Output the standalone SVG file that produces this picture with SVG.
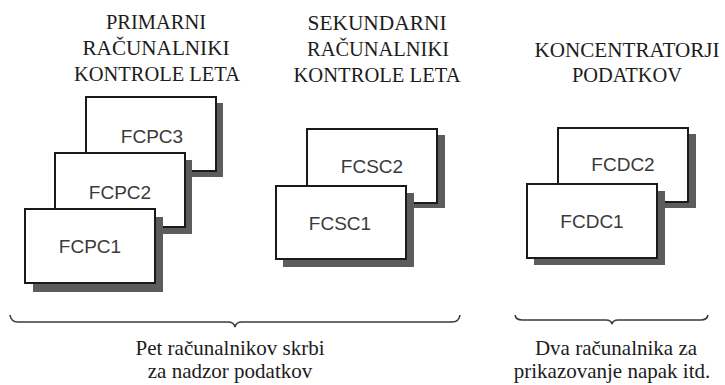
<svg xmlns="http://www.w3.org/2000/svg" width="725" height="385" viewBox="0 0 725 385">
<style>
.hdr{font-family:"Liberation Serif","Times New Roman",serif;font-size:20.5px;fill:#1c1c1c;text-anchor:middle}
.cap{font-family:"Liberation Serif","Times New Roman",serif;font-size:21px;fill:#1c1c1c;text-anchor:middle}
.lbl{font-family:"Liberation Sans",Arial,sans-serif;font-size:19px;fill:#3a3a3a;text-anchor:middle}
.box{fill:#ffffff;stroke:#1a1a1a;stroke-width:2}
.shd{fill:#5c5c5c}
.brace{fill:none;stroke:#3a3a3a;stroke-width:1.6}
</style>
<rect width="725" height="385" fill="#ffffff"/>
<g id="headers">
<text class="hdr" x="156" y="29" textLength="100" lengthAdjust="spacingAndGlyphs">PRIMARNI</text>
<text class="hdr" x="156" y="55" textLength="147" lengthAdjust="spacingAndGlyphs">RAČUNALNIKI</text>
<text class="hdr" x="157" y="81" textLength="166" lengthAdjust="spacingAndGlyphs">KONTROLE LETA</text>
<text class="hdr" x="377" y="30" textLength="139" lengthAdjust="spacingAndGlyphs">SEKUNDARNI</text>
<text class="hdr" x="378" y="56" textLength="142" lengthAdjust="spacingAndGlyphs">RAČUNALNIKI</text>
<text class="hdr" x="377" y="82" textLength="167" lengthAdjust="spacingAndGlyphs">KONTROLE LETA</text>
<text class="hdr" x="627" y="57" textLength="185" lengthAdjust="spacingAndGlyphs">KONCENTRATORJI</text>
<text class="hdr" x="627" y="82" textLength="110" lengthAdjust="spacingAndGlyphs">PODATKOV</text>
</g>
<g id="FCPC3">
<rect class="shd" x="93" y="103" width="130" height="74"/>
<rect class="box" x="86" y="97" width="130" height="74"/>
<text class="lbl" x="152" y="143">FCPC3</text>
</g>
<g id="FCPC2">
<rect class="shd" x="62" y="160" width="130" height="74"/>
<rect class="box" x="55" y="153" width="130" height="74"/>
<text class="lbl" x="120" y="199">FCPC2</text>
</g>
<g id="FCPC1">
<rect class="shd" x="33" y="217" width="130" height="75"/>
<rect class="box" x="25" y="209" width="130" height="74"/>
<text class="lbl" x="90" y="253">FCPC1</text>
</g>
<g id="FCSC2">
<rect class="shd" x="314" y="135" width="131" height="73"/>
<rect class="box" x="307" y="129" width="130" height="74"/>
<text class="lbl" x="372" y="173">FCSC2</text>
</g>
<g id="FCSC1">
<rect class="shd" x="283" y="193" width="131" height="74"/>
<rect class="box" x="276" y="186" width="130" height="73"/>
<text class="lbl" x="340" y="230">FCSC1</text>
</g>
<g id="FCDC2">
<rect class="shd" x="565" y="134" width="131" height="74"/>
<rect class="box" x="558" y="128" width="130" height="74"/>
<text class="lbl" x="623" y="171">FCDC2</text>
</g>
<g id="FCDC1">
<rect class="shd" x="534" y="191" width="131" height="74"/>
<rect class="box" x="527" y="184" width="130" height="74"/>
<text class="lbl" x="592" y="228">FCDC1</text>
</g>
<g id="connectors">
<path class="brace" d="M10,315 Q11,322 18,322 L228,322 Q234,322 235,327 Q236,322 242,322 L452,322 Q459,322 460,315"/>
<path class="brace" d="M515,315 Q516,320 522,320 L606,320 Q611,320 612,324 Q613,320 618,320 L701,320 Q707,320 708,315"/>
</g>
<g id="captions">
<text class="cap" x="230" y="355">Pet računalnikov skrbi</text>
<text class="cap" x="230" y="378">za nadzor podatkov</text>
<text class="cap" x="616" y="355">Dva računalnika za</text>
<text class="cap" x="612" y="378">prikazovanje napak itd.</text>
</g>
</svg>
